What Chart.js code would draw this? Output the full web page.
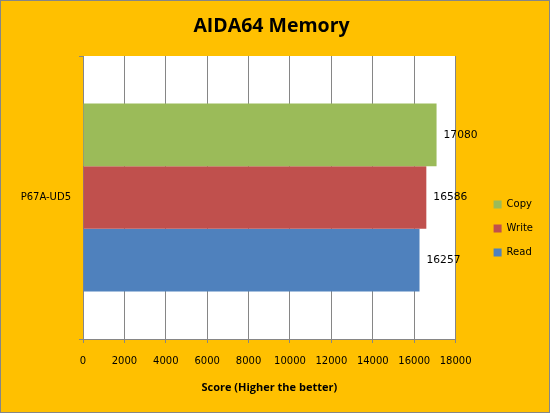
<!DOCTYPE html>
<html>
<head>
<meta charset="utf-8">
<script src="https://cdn.jsdelivr.net/npm/chart.js@4.4.1/dist/chart.umd.min.js"></script>
<style>
  html, body { margin: 0; padding: 0; }
  #wrap { width: 550px; height: 413px; }
</style>
</head>
<body>
<div id="wrap"><canvas id="chart" width="550" height="413"></canvas></div>
<script>
// values
var boards = ["P67A-UD5"];
var copyScores = [17080];
var writeScores = [16586];
var readScores = [16257];
var seriesNames = ["Copy", "Write", "Read"];
var seriesColors = ["#9BBB59", "#C0504D", "#4F81BD"];

var gridGray = "#868686";

// orange background, frame and white plot area
var backdrop = {
    id: "backdrop",
    afterLayout: function(chart) {
        // excel puts the legend a bit lower than centred
        if (chart.legend) {
            chart.legend.top += 22;
            chart.legend.bottom += 22;
        }
    },
    beforeDraw: function(chart) {
        var ctx = chart.ctx, a = chart.chartArea;
        ctx.save();
        ctx.fillStyle = "#FFC000";
        ctx.fillRect(0, 0, chart.width, chart.height);
        ctx.strokeStyle = gridGray;
        ctx.lineWidth = 1;
        ctx.strokeRect(0.5, 0.5, chart.width - 1, chart.height - 1);
        ctx.fillStyle = "#FFFFFF";
        ctx.fillRect(a.left, a.top, a.right - a.left, a.bottom - a.top);
        ctx.restore();
    }
};

// value labels just past the bar ends
var barValues = {
    id: "barValues",
    afterDatasetsDraw: function(chart) {
        var ctx = chart.ctx;
        ctx.save();
        ctx.font = "10.7px 'DejaVu Sans'";
        ctx.fillStyle = "#000000";
        ctx.textAlign = "left";
        ctx.textBaseline = "middle";
        chart.data.datasets.forEach(function(ds, i) {
            chart.getDatasetMeta(i).data.forEach(function(bar, j) {
                ctx.fillText(String(ds.data[j]), bar.x + 7, bar.y);
            });
        });
        ctx.restore();
    }
};

var allSeries = [copyScores, writeScores, readScores];
var datasets = [];
for (var i = 0; i < allSeries.length; i++) {
    datasets.push({
        label: seriesNames[i],
        data: allSeries[i],
        backgroundColor: seriesColors[i],
        borderWidth: 0,
        categoryPercentage: 0.665,
        barPercentage: 1.0
    });
}

new Chart(document.getElementById("chart"), {
    type: "bar",
    data: { labels: boards, datasets: datasets },
    options: {
        indexAxis: "y",
        responsive: false,
        animation: false,
        layout: { padding: { left: 0, right: 7, top: 0, bottom: 0 } },
        plugins: {
            title: {
                display: true,
                text: "AIDA64 Memory",
                color: "#000000",
                font: { family: "'Open Sans'", size: 19.5, weight: "bold", lineHeight: 1.2 },
                padding: { top: 15, bottom: 17.6 }
            },
            legend: {
                position: "right",
                labels: {
                    color: "#000000",
                    font: { family: "'DejaVu Sans'", size: 10 },
                    boxWidth: 8,
                    boxHeight: 8,
                    padding: 14
                }
            },
            tooltip: { enabled: false }
        },
        scales: {
            x: {
                min: 0,
                max: 18000,
                ticks: { stepSize: 2000, color: "#000000", padding: 12,
                         font: { family: "'DejaVu Sans'", size: 10 },
                         callback: function(v) { return String(v); } },
                grid: { color: gridGray, tickLength: 4, tickColor: gridGray },
                border: { color: gridGray },
                title: {
                    display: true,
                    text: "Score (Higher the better)",
                    color: "#000000",
                    font: { family: "'Open Sans'", size: 11, weight: "bold" },
                    padding: { top: 0, bottom: 19 }
                },
                afterFit: function(s) { s.height = 74; }
            },
            y: {
                ticks: { color: "#000000", padding: 8,
                         font: { family: "'DejaVu Sans'", size: 10 } },
                grid: { drawOnChartArea: false, tickLength: 4, tickColor: gridGray },
                border: { color: gridGray },
                afterFit: function(s) { s.width = 83; }
            },
            // empty strip between the plot and the legend
            gap: {
                type: "category",
                axis: "y",
                position: "right",
                grid: { display: false },
                ticks: { display: false },
                border: { display: false },
                afterFit: function(s) { s.width = 24; }
            }
        }
    },
    plugins: [backdrop, barValues]
});
</script>
</body>
</html>
